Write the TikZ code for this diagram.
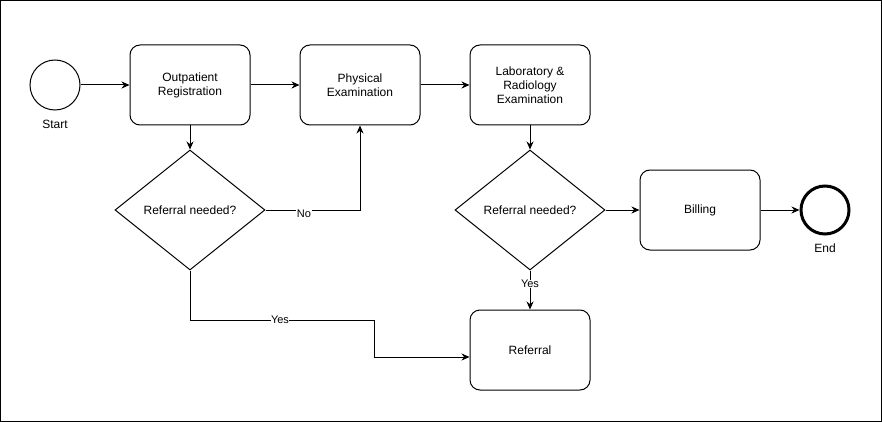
\documentclass[tikz,border=0pt]{standalone}
\usepackage{fontspec}
\setmainfont{Liberation Sans}
\usetikzlibrary{shapes.geometric,arrows.meta}
\begin{document}
\begin{tikzpicture}[x=1pt,y=-1pt,
  every node/.style={font=\fontsize{12}{14}\selectfont},
  proc/.style={draw,line width=1pt,rounded corners=10pt,minimum width=120pt,minimum height=80pt,inner sep=0pt,align=center},
  decis/.style={draw,line width=1pt,diamond,aspect=1.25,minimum width=150pt,minimum height=120pt,inner sep=0pt},
  evt/.style={draw,circle,minimum size=50pt,inner sep=0pt},
  conn/.style={line width=1pt,-{Stealth[length=8pt,width=7pt]}},
  lbl/.style={font=\fontsize{11}{13}\selectfont,fill=white,inner sep=0.5pt},
  evtlabel/.style={font=\fontsize{12}{14}\selectfont}
]
\useasboundingbox (0,0) rectangle (882,422);
\draw[line width=1pt] (0.5,0.5) rectangle (881.5,421.5);

\node[evt,line width=1pt] (start) at (55,85) {};
\node[evtlabel] (startl) at (55,124) {Start};
\node[proc] (reg) at (190,85) {Outpatient\\Registration};
\node[proc] (phys) at (360,85) {Physical\\Examination};
\node[proc] (lab) at (530,85) {Laboratory \&\\Radiology\\Examination};
\node[decis] (d1) at (190,210) {Referral needed?};
\node[decis] (d2) at (530,210) {Referral needed?};
\node[proc] (bill) at (700,210) {Billing};
\node[evt,line width=3pt,minimum size=48pt] (end) at (825,210) {};
\node[evtlabel] (endl) at (825,248) {End};
\node[proc] (ref) at (530,350) {Referral};

\coordinate (c1) at (360,210);
\coordinate (c2) at (190,320);
\coordinate (c3) at (374,320);
\coordinate (c4) at (374,357);

\draw[conn] (start) -- (reg);
\draw[conn] (reg) -- (phys);
\draw[conn] (phys) -- (lab);
\draw[conn] (reg) -- (d1);
\draw[conn] (d1.east) -- (c1) -- (phys.south);
\draw[conn] (d1.south) -- (c2) -- (c3) -- (c4) -- (c4 -| ref.west);
\draw[conn] (lab) -- (d2);
\draw[conn] (d2.east) -- (bill.west);
\draw[conn] (d2.south) -- (ref.north);
\draw[conn] (bill) -- (end);

\node[lbl] (no) at (304,214) {No};
\node[lbl] (yes1) at (280,320) {Yes};
\node[lbl] (yes2) at (530,284) {Yes};
\end{tikzpicture}
\end{document}
